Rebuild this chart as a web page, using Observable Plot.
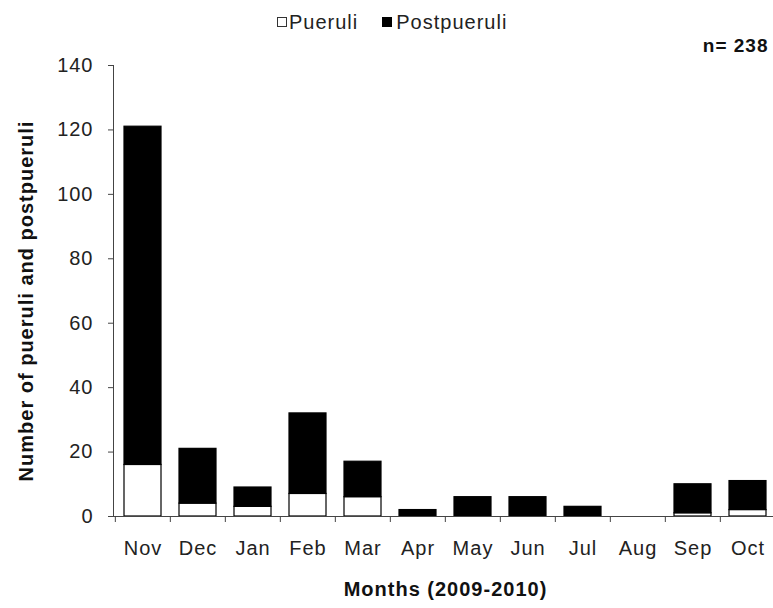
<!DOCTYPE html>
<html>
<head>
<meta charset="utf-8">
<script src="https://cdn.jsdelivr.net/npm/d3@7"></script>
<script src="https://cdn.jsdelivr.net/npm/@observablehq/plot@0.6"></script>
<style>
  html, body { margin: 0; padding: 0; background: #fff; }
  #wrap { position: relative; width: 773px; height: 608px; overflow: hidden; }
  #legend { position: absolute; top: 10px; left: 277px; display: flex; align-items: center;
    font-family: "Liberation Sans", Arial, sans-serif; font-size: 20px; letter-spacing: 1px; color: #222; line-height: 24px; }
  .sw { display: inline-block; width: 10px; height: 10px; box-sizing: border-box; }
</style>
</head>
<body>
<div id="wrap">
  <div id="legend">
    <span class="sw" style="border:1.3px solid #333;background:#fff;"></span><span style="margin-left:2px;">Pueruli</span>
    <span class="sw" style="background:#000;margin-left:24px;"></span><span style="margin-left:4px;">Postpueruli</span>
  </div>
</div>
<script>
const months = ["Nov","Dec","Jan","Feb","Mar","Apr","May","Jun","Jul","Aug","Sep","Oct"];
const seriesNames = ["Pueruli", "Postpueruli"];
const pueruli =     [16, 4, 3, 7, 6, 0, 0, 0, 0, 0, 1, 2];
const postpueruli = [105, 17, 6, 25, 11, 2, 6, 6, 3, 0, 9, 9];
const yTicks = [0, 20, 40, 60, 80, 100, 120, 140];
const yLabel = "Number of pueruli and postpueruli";
const xLabel = "Months (2009-2010)";
const nLabel = "n= 238";

const rows = [];
months.forEach((m, i) => {
  rows.push({month: m, series: seriesNames[0], value: pueruli[i]});
  rows.push({month: m, series: seriesNames[1], value: postpueruli[i]});
});

const W = 773, H = 608, mL = 113, mR = -4, mT = 65, mB = 92;
const step = (W - mR - mL) / months.length;

const chart = Plot.plot({
  width: W,
  height: H,
  marginLeft: mL,
  marginRight: mR,
  marginTop: mT,
  marginBottom: mB,
  style: {fontFamily: "'Liberation Sans', Arial, sans-serif", fontSize: "20px", letterSpacing: "1px", color: "#222", background: "#fff"},
  x: {domain: months, paddingInner: 0.33, paddingOuter: 0.165},
  y: {domain: [0, 140]},
  color: {domain: seriesNames, range: ["#ffffff", "#000000"]},
  marks: [
    Plot.barY(rows, Plot.stackY({order: seriesNames}, {x: "month", y: "value", z: "series", fill: "series", stroke: "#000", strokeWidth: 1.2})),
    Plot.frame({anchor: "left", stroke: "#444"}),
    Plot.ruleY([0], {stroke: "#444"}),
    Plot.axisY({ticks: yTicks, tickSize: 5, tickPadding: 15, label: null, stroke: "#444", fontSize: 20}),
    Plot.axisX({ticks: months, tickSize: 6, tickFormat: () => "", dx: -step / 2, label: null, stroke: "#444"}),
    Plot.axisX({tickSize: 0, tickPadding: 24, label: null, fontSize: 20}),
    Plot.text([yLabel], {text: d => d, frameAnchor: "left", textAnchor: "middle", lineAnchor: "middle", rotate: -90, dx: -87, dy: 10, fontWeight: "bold", fontSize: 20, fill: "#111"}),
    Plot.text([xLabel], {text: d => d, frameAnchor: "bottom", dy: 79, fontWeight: "bold", fontSize: 20, fill: "#111"}),
    Plot.text([nLabel], {text: d => d, frameAnchor: "top-right", textAnchor: "end", dx: -9, dy: -27, fontWeight: "bold", fontSize: 19, fill: "#111"})
  ]
});
document.getElementById("wrap").prepend(chart);
</script>
</body>
</html>
